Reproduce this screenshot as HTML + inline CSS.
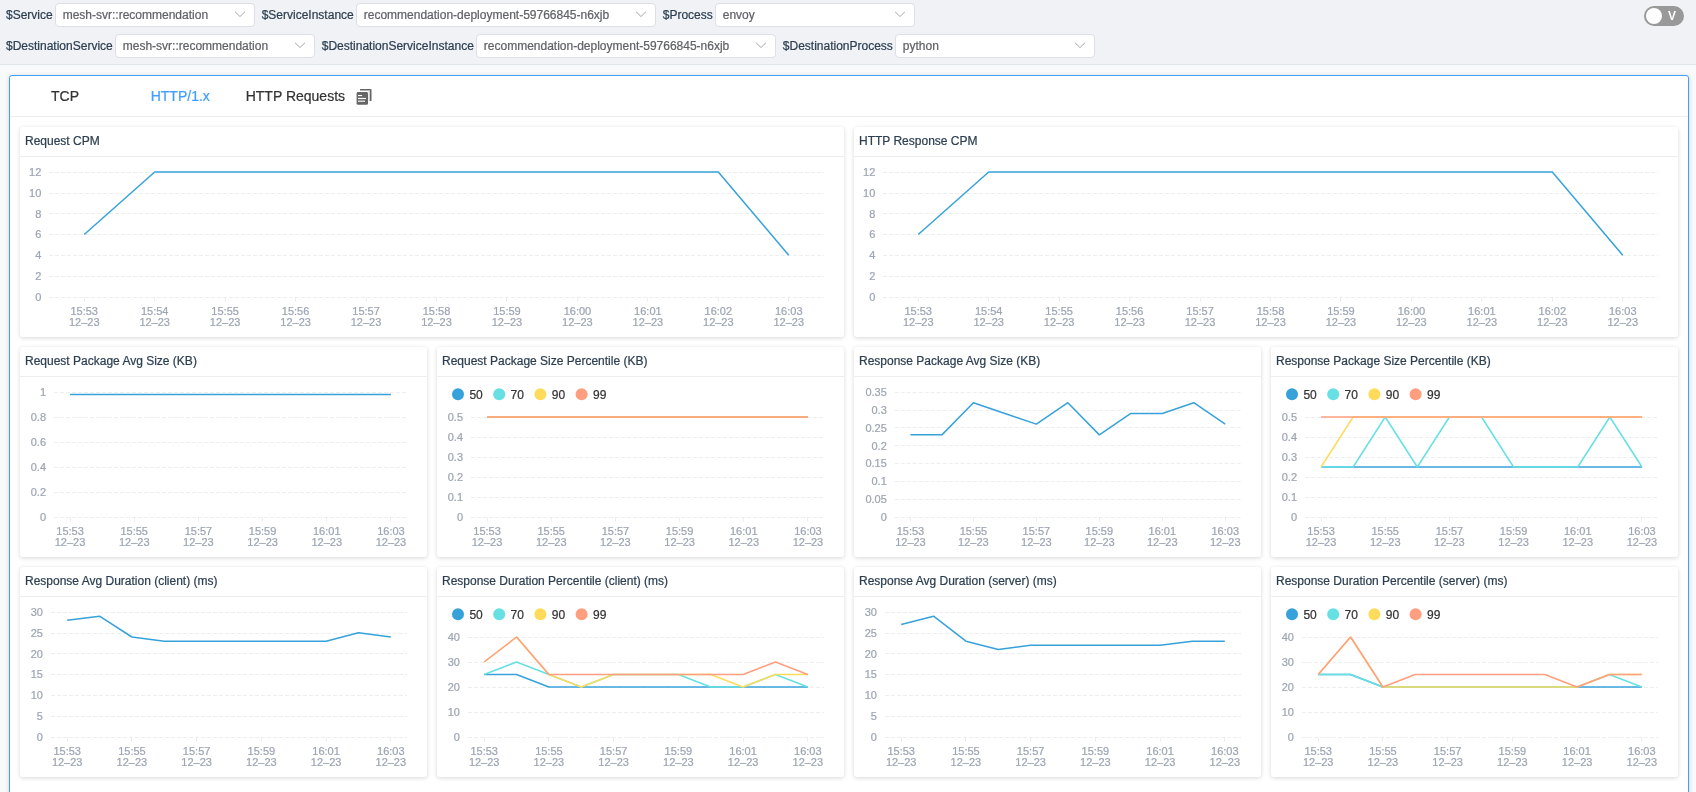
<!DOCTYPE html>
<html><head><meta charset="utf-8"><title>dashboard</title>
<style>
*{box-sizing:border-box;margin:0;padding:0}
html,body{width:1696px;height:792px;overflow:hidden}
body{background:#f7f9fa;font-family:"Liberation Sans", sans-serif;font-size:12px;color:#2c3e50;position:relative}
.top{position:absolute;left:0;top:0;width:1696px;height:65px;background:#f0f2f5;border-bottom:1px solid #dfe4e8}
.r{position:absolute;left:6px;height:24px;display:flex;align-items:center;white-space:nowrap}
.r1{top:3px}.r2{top:34px}
.lb{font-size:12px;color:#2c3e50;margin-right:2.3px;line-height:24px;position:relative;top:0px}
.sel{display:inline-block;position:relative;height:24px;border:1px solid #dcdfe6;border-radius:4px;background:#fff;margin-right:6.7px;flex:none}
.sv{position:absolute;left:6.7px;top:0;line-height:22px;font-size:12px;color:#606266}
.arr{position:absolute;right:7.3px;top:3.4px}
.top,.tabs,.card{will-change:transform}
.lb,.sv,.tab,.hd{-webkit-text-stroke:0.22px currentColor}
.yl,.xl,.lg{stroke-width:0.22px}
.yl,.xl{stroke:#9da5b2}.lg{stroke:#333}
.sw{position:absolute;left:1644px;top:6px;width:40px;height:20px;border-radius:10px;background:#999}
.sw i{position:absolute;left:2px;top:2px;width:16px;height:16px;border-radius:8px;background:#fff}
.sw b{position:absolute;left:24px;top:0;line-height:20px;font-size:12px;color:#fff;font-weight:700;font-style:normal}
.panel{position:absolute;left:9px;top:75px;width:1680px;height:740px;background:#fff;border:1px solid #409eff;border-radius:3px;box-shadow:0 1px 4px 0 rgba(0,0,0,.16)}
.tabs{position:absolute;left:10px;top:76px;width:1678px;height:41px;border-bottom:1px solid #eee}
.tab{position:absolute;top:0;line-height:40px;font-size:14px;color:#333;white-space:nowrap}
.card{position:absolute;background:#fff;border-radius:3px;box-shadow:0 1px 4px 0 rgba(0,0,0,.16)}
.hd{position:absolute;left:0;top:0;width:100%;height:30px;border-bottom:1px solid #eee;padding-left:5px;line-height:28px;font-size:12px;color:#2c3e50;white-space:nowrap}
.cv{position:absolute;left:0;top:0}
.gl{stroke:#c1c5ca;stroke-opacity:0.29;stroke-width:1;stroke-dasharray:4 2}
.tk{stroke:#c1c5ca;stroke-opacity:0.29;stroke-width:1}
.yl{font-family:"Liberation Sans", sans-serif;font-size:11px;fill:#9da5b2;text-anchor:end}
.xl{font-family:"Liberation Sans", sans-serif;font-size:11px;fill:#9da5b2;text-anchor:middle}
.lg{font-family:"Liberation Sans", sans-serif;font-size:12px;fill:#333}
.sl{stroke-width:1.5;stroke-linejoin:bevel;stroke-linecap:butt}
</style></head><body>
<div class="top">
<div class="r r1"><span class="lb">$Service</span><span class="sel" style="width:200px"><span class="sv">mesh-svr::recommendation</span><svg class="arr" width="14" height="14" viewBox="0 0 1024 1024"><path fill="#a8abb2" d="M831.872 340.864 512 652.672 192.128 340.864a30.592 30.592 0 0 0-42.752 0 29.12 29.12 0 0 0 0 41.6L489.664 714.24a32 32 0 0 0 44.672 0l340.288-331.712a29.12 29.12 0 0 0 0-41.728 30.592 30.592 0 0 0-42.752 0z"/></svg></span><span class="lb">$ServiceInstance</span><span class="sel" style="width:300px"><span class="sv">recommendation-deployment-59766845-n6xjb</span><svg class="arr" width="14" height="14" viewBox="0 0 1024 1024"><path fill="#a8abb2" d="M831.872 340.864 512 652.672 192.128 340.864a30.592 30.592 0 0 0-42.752 0 29.12 29.12 0 0 0 0 41.6L489.664 714.24a32 32 0 0 0 44.672 0l340.288-331.712a29.12 29.12 0 0 0 0-41.728 30.592 30.592 0 0 0-42.752 0z"/></svg></span><span class="lb">$Process</span><span class="sel" style="width:200px"><span class="sv">envoy</span><svg class="arr" width="14" height="14" viewBox="0 0 1024 1024"><path fill="#a8abb2" d="M831.872 340.864 512 652.672 192.128 340.864a30.592 30.592 0 0 0-42.752 0 29.12 29.12 0 0 0 0 41.6L489.664 714.24a32 32 0 0 0 44.672 0l340.288-331.712a29.12 29.12 0 0 0 0-41.728 30.592 30.592 0 0 0-42.752 0z"/></svg></span></div>
<div class="r r2"><span class="lb">$DestinationService</span><span class="sel" style="width:200px"><span class="sv">mesh-svr::recommendation</span><svg class="arr" width="14" height="14" viewBox="0 0 1024 1024"><path fill="#a8abb2" d="M831.872 340.864 512 652.672 192.128 340.864a30.592 30.592 0 0 0-42.752 0 29.12 29.12 0 0 0 0 41.6L489.664 714.24a32 32 0 0 0 44.672 0l340.288-331.712a29.12 29.12 0 0 0 0-41.728 30.592 30.592 0 0 0-42.752 0z"/></svg></span><span class="lb">$DestinationServiceInstance</span><span class="sel" style="width:300px"><span class="sv">recommendation-deployment-59766845-n6xjb</span><svg class="arr" width="14" height="14" viewBox="0 0 1024 1024"><path fill="#a8abb2" d="M831.872 340.864 512 652.672 192.128 340.864a30.592 30.592 0 0 0-42.752 0 29.12 29.12 0 0 0 0 41.6L489.664 714.24a32 32 0 0 0 44.672 0l340.288-331.712a29.12 29.12 0 0 0 0-41.728 30.592 30.592 0 0 0-42.752 0z"/></svg></span><span class="lb">$DestinationProcess</span><span class="sel" style="width:200px"><span class="sv">python</span><svg class="arr" width="14" height="14" viewBox="0 0 1024 1024"><path fill="#a8abb2" d="M831.872 340.864 512 652.672 192.128 340.864a30.592 30.592 0 0 0-42.752 0 29.12 29.12 0 0 0 0 41.6L489.664 714.24a32 32 0 0 0 44.672 0l340.288-331.712a29.12 29.12 0 0 0 0-41.728 30.592 30.592 0 0 0-42.752 0z"/></svg></span></div>
<div class="sw"><i></i><b>V</b></div>
</div>
<div class="panel"></div>
<div class="tabs">
<span class="tab" style="left:41px">TCP</span>
<span class="tab" style="left:140.7px;color:#409eff">HTTP/1.x</span>
<span class="tab" style="left:235.7px">HTTP Requests</span>
<svg style="position:absolute;left:346px;top:12px" width="17" height="18" viewBox="0 0 17 18">
<path d="M4.0 1.65 H14.75 V13.1" fill="none" stroke="#666" stroke-width="1.5" stroke-linejoin="round"/>
<path d="M13.3 2.6 V12.9" fill="none" stroke="#cfcfcf" stroke-width="1.3"/>
<rect x="0.6" y="4" width="11.4" height="12.8" rx="1.4" fill="#666"/>
<rect x="2" y="7" width="4.1" height="1.1" fill="#fff"/>
<rect x="2" y="9.9" width="8" height="1.2" fill="#fff"/>
<rect x="2" y="12.6" width="7" height="1.3" fill="#e8e8e8"/>
</svg>
</div>
<div class="card" style="left:20px;top:127px;width:824px;height:210px">
<div class="hd">Request CPM</div>
<svg class="cv" width="824" height="210" viewBox="0 0 824 210">
<line x1="29" y1="170.5" x2="804" y2="170.5" class="gl"/>
<text x="21.3" y="173.95" class="yl">0</text>
<line x1="29" y1="149.5" x2="804" y2="149.5" class="gl"/>
<text x="21.3" y="153.12" class="yl">2</text>
<line x1="29" y1="128.5" x2="804" y2="128.5" class="gl"/>
<text x="21.3" y="132.28" class="yl">4</text>
<line x1="29" y1="107.5" x2="804" y2="107.5" class="gl"/>
<text x="21.3" y="111.45" class="yl">6</text>
<line x1="29" y1="86.5" x2="804" y2="86.5" class="gl"/>
<text x="21.3" y="90.62" class="yl">8</text>
<line x1="29" y1="66.5" x2="804" y2="66.5" class="gl"/>
<text x="21.3" y="69.78" class="yl">10</text>
<line x1="29" y1="45.5" x2="804" y2="45.5" class="gl"/>
<text x="21.3" y="48.95" class="yl">12</text>
<line x1="64.5" y1="170.5" x2="64.5" y2="174.7" class="tk"/>
<text x="64.23" y="187.9" class="xl">15:53</text>
<text x="64.23" y="198.8" class="xl">12–23</text>
<line x1="134.5" y1="170.5" x2="134.5" y2="174.7" class="tk"/>
<text x="134.68" y="187.9" class="xl">15:54</text>
<text x="134.68" y="198.8" class="xl">12–23</text>
<line x1="205.5" y1="170.5" x2="205.5" y2="174.7" class="tk"/>
<text x="205.14" y="187.9" class="xl">15:55</text>
<text x="205.14" y="198.8" class="xl">12–23</text>
<line x1="275.5" y1="170.5" x2="275.5" y2="174.7" class="tk"/>
<text x="275.59" y="187.9" class="xl">15:56</text>
<text x="275.59" y="198.8" class="xl">12–23</text>
<line x1="346.5" y1="170.5" x2="346.5" y2="174.7" class="tk"/>
<text x="346.05" y="187.9" class="xl">15:57</text>
<text x="346.05" y="198.8" class="xl">12–23</text>
<line x1="416.5" y1="170.5" x2="416.5" y2="174.7" class="tk"/>
<text x="416.5" y="187.9" class="xl">15:58</text>
<text x="416.5" y="198.8" class="xl">12–23</text>
<line x1="486.5" y1="170.5" x2="486.5" y2="174.7" class="tk"/>
<text x="486.95" y="187.9" class="xl">15:59</text>
<text x="486.95" y="198.8" class="xl">12–23</text>
<line x1="557.5" y1="170.5" x2="557.5" y2="174.7" class="tk"/>
<text x="557.41" y="187.9" class="xl">16:00</text>
<text x="557.41" y="198.8" class="xl">12–23</text>
<line x1="627.5" y1="170.5" x2="627.5" y2="174.7" class="tk"/>
<text x="627.86" y="187.9" class="xl">16:01</text>
<text x="627.86" y="198.8" class="xl">12–23</text>
<line x1="698.5" y1="170.5" x2="698.5" y2="174.7" class="tk"/>
<text x="698.32" y="187.9" class="xl">16:02</text>
<text x="698.32" y="198.8" class="xl">12–23</text>
<line x1="768.5" y1="170.5" x2="768.5" y2="174.7" class="tk"/>
<text x="768.77" y="187.9" class="xl">16:03</text>
<text x="768.77" y="198.8" class="xl">12–23</text>
<polyline points="64.23,107.5 134.68,45 205.14,45 275.59,45 346.05,45 416.5,45 486.95,45 557.41,45 627.86,45 698.32,45 768.77,128.33" fill="none" stroke="#37A2DA" class="sl"/>
</svg></div>
<div class="card" style="left:854px;top:127px;width:824px;height:210px">
<div class="hd">HTTP Response CPM</div>
<svg class="cv" width="824" height="210" viewBox="0 0 824 210">
<line x1="29" y1="170.5" x2="804" y2="170.5" class="gl"/>
<text x="21.3" y="173.95" class="yl">0</text>
<line x1="29" y1="149.5" x2="804" y2="149.5" class="gl"/>
<text x="21.3" y="153.12" class="yl">2</text>
<line x1="29" y1="128.5" x2="804" y2="128.5" class="gl"/>
<text x="21.3" y="132.28" class="yl">4</text>
<line x1="29" y1="107.5" x2="804" y2="107.5" class="gl"/>
<text x="21.3" y="111.45" class="yl">6</text>
<line x1="29" y1="86.5" x2="804" y2="86.5" class="gl"/>
<text x="21.3" y="90.62" class="yl">8</text>
<line x1="29" y1="66.5" x2="804" y2="66.5" class="gl"/>
<text x="21.3" y="69.78" class="yl">10</text>
<line x1="29" y1="45.5" x2="804" y2="45.5" class="gl"/>
<text x="21.3" y="48.95" class="yl">12</text>
<line x1="64.5" y1="170.5" x2="64.5" y2="174.7" class="tk"/>
<text x="64.23" y="187.9" class="xl">15:53</text>
<text x="64.23" y="198.8" class="xl">12–23</text>
<line x1="134.5" y1="170.5" x2="134.5" y2="174.7" class="tk"/>
<text x="134.68" y="187.9" class="xl">15:54</text>
<text x="134.68" y="198.8" class="xl">12–23</text>
<line x1="205.5" y1="170.5" x2="205.5" y2="174.7" class="tk"/>
<text x="205.14" y="187.9" class="xl">15:55</text>
<text x="205.14" y="198.8" class="xl">12–23</text>
<line x1="275.5" y1="170.5" x2="275.5" y2="174.7" class="tk"/>
<text x="275.59" y="187.9" class="xl">15:56</text>
<text x="275.59" y="198.8" class="xl">12–23</text>
<line x1="346.5" y1="170.5" x2="346.5" y2="174.7" class="tk"/>
<text x="346.05" y="187.9" class="xl">15:57</text>
<text x="346.05" y="198.8" class="xl">12–23</text>
<line x1="416.5" y1="170.5" x2="416.5" y2="174.7" class="tk"/>
<text x="416.5" y="187.9" class="xl">15:58</text>
<text x="416.5" y="198.8" class="xl">12–23</text>
<line x1="486.5" y1="170.5" x2="486.5" y2="174.7" class="tk"/>
<text x="486.95" y="187.9" class="xl">15:59</text>
<text x="486.95" y="198.8" class="xl">12–23</text>
<line x1="557.5" y1="170.5" x2="557.5" y2="174.7" class="tk"/>
<text x="557.41" y="187.9" class="xl">16:00</text>
<text x="557.41" y="198.8" class="xl">12–23</text>
<line x1="627.5" y1="170.5" x2="627.5" y2="174.7" class="tk"/>
<text x="627.86" y="187.9" class="xl">16:01</text>
<text x="627.86" y="198.8" class="xl">12–23</text>
<line x1="698.5" y1="170.5" x2="698.5" y2="174.7" class="tk"/>
<text x="698.32" y="187.9" class="xl">16:02</text>
<text x="698.32" y="198.8" class="xl">12–23</text>
<line x1="768.5" y1="170.5" x2="768.5" y2="174.7" class="tk"/>
<text x="768.77" y="187.9" class="xl">16:03</text>
<text x="768.77" y="198.8" class="xl">12–23</text>
<polyline points="64.23,107.5 134.68,45 205.14,45 275.59,45 346.05,45 416.5,45 486.95,45 557.41,45 627.86,45 698.32,45 768.77,128.33" fill="none" stroke="#37A2DA" class="sl"/>
</svg></div>
<div class="card" style="left:20px;top:347px;width:407px;height:210px">
<div class="hd">Request Package Avg Size (KB)</div>
<svg class="cv" width="407" height="210" viewBox="0 0 407 210">
<line x1="34" y1="170.5" x2="387" y2="170.5" class="gl"/>
<text x="26" y="173.95" class="yl">0</text>
<line x1="34" y1="145.5" x2="387" y2="145.5" class="gl"/>
<text x="26" y="148.95" class="yl">0.2</text>
<line x1="34" y1="120.5" x2="387" y2="120.5" class="gl"/>
<text x="26" y="123.95" class="yl">0.4</text>
<line x1="34" y1="95.5" x2="387" y2="95.5" class="gl"/>
<text x="26" y="98.95" class="yl">0.6</text>
<line x1="34" y1="70.5" x2="387" y2="70.5" class="gl"/>
<text x="26" y="73.95" class="yl">0.8</text>
<line x1="34" y1="45.5" x2="387" y2="45.5" class="gl"/>
<text x="26" y="48.95" class="yl">1</text>
<line x1="50.5" y1="170.5" x2="50.5" y2="174.7" class="tk"/>
<text x="50.05" y="187.9" class="xl">15:53</text>
<text x="50.05" y="198.8" class="xl">12–23</text>
<line x1="114.5" y1="170.5" x2="114.5" y2="174.7" class="tk"/>
<text x="114.23" y="187.9" class="xl">15:55</text>
<text x="114.23" y="198.8" class="xl">12–23</text>
<line x1="178.5" y1="170.5" x2="178.5" y2="174.7" class="tk"/>
<text x="178.41" y="187.9" class="xl">15:57</text>
<text x="178.41" y="198.8" class="xl">12–23</text>
<line x1="242.5" y1="170.5" x2="242.5" y2="174.7" class="tk"/>
<text x="242.59" y="187.9" class="xl">15:59</text>
<text x="242.59" y="198.8" class="xl">12–23</text>
<line x1="306.5" y1="170.5" x2="306.5" y2="174.7" class="tk"/>
<text x="306.77" y="187.9" class="xl">16:01</text>
<text x="306.77" y="198.8" class="xl">12–23</text>
<line x1="370.5" y1="170.5" x2="370.5" y2="174.7" class="tk"/>
<text x="370.95" y="187.9" class="xl">16:03</text>
<text x="370.95" y="198.8" class="xl">12–23</text>
<polyline points="50.05,47.5 82.14,47.5 114.23,47.5 146.32,47.5 178.41,47.5 210.5,47.5 242.59,47.5 274.68,47.5 306.77,47.5 338.86,47.5 370.95,47.5" fill="none" stroke="#37A2DA" class="sl"/>
</svg></div>
<div class="card" style="left:437px;top:347px;width:407px;height:210px">
<div class="hd">Request Package Size Percentile (KB)</div>
<svg class="cv" width="407" height="210" viewBox="0 0 407 210">
<line x1="34" y1="170.5" x2="387" y2="170.5" class="gl"/>
<text x="26" y="173.95" class="yl">0</text>
<line x1="34" y1="150.5" x2="387" y2="150.5" class="gl"/>
<text x="26" y="153.95" class="yl">0.1</text>
<line x1="34" y1="130.5" x2="387" y2="130.5" class="gl"/>
<text x="26" y="133.95" class="yl">0.2</text>
<line x1="34" y1="110.5" x2="387" y2="110.5" class="gl"/>
<text x="26" y="113.95" class="yl">0.3</text>
<line x1="34" y1="90.5" x2="387" y2="90.5" class="gl"/>
<text x="26" y="93.95" class="yl">0.4</text>
<line x1="34" y1="70.5" x2="387" y2="70.5" class="gl"/>
<text x="26" y="73.95" class="yl">0.5</text>
<line x1="50.5" y1="170.5" x2="50.5" y2="174.7" class="tk"/>
<text x="50.05" y="187.9" class="xl">15:53</text>
<text x="50.05" y="198.8" class="xl">12–23</text>
<line x1="114.5" y1="170.5" x2="114.5" y2="174.7" class="tk"/>
<text x="114.23" y="187.9" class="xl">15:55</text>
<text x="114.23" y="198.8" class="xl">12–23</text>
<line x1="178.5" y1="170.5" x2="178.5" y2="174.7" class="tk"/>
<text x="178.41" y="187.9" class="xl">15:57</text>
<text x="178.41" y="198.8" class="xl">12–23</text>
<line x1="242.5" y1="170.5" x2="242.5" y2="174.7" class="tk"/>
<text x="242.59" y="187.9" class="xl">15:59</text>
<text x="242.59" y="198.8" class="xl">12–23</text>
<line x1="306.5" y1="170.5" x2="306.5" y2="174.7" class="tk"/>
<text x="306.77" y="187.9" class="xl">16:01</text>
<text x="306.77" y="198.8" class="xl">12–23</text>
<line x1="370.5" y1="170.5" x2="370.5" y2="174.7" class="tk"/>
<text x="370.95" y="187.9" class="xl">16:03</text>
<text x="370.95" y="198.8" class="xl">12–23</text>
<polyline points="50.05,70 82.14,70 114.23,70 146.32,70 178.41,70 210.5,70 242.59,70 274.68,70 306.77,70 338.86,70 370.95,70" fill="none" stroke="#37A2DA" class="sl"/>
<polyline points="50.05,70 82.14,70 114.23,70 146.32,70 178.41,70 210.5,70 242.59,70 274.68,70 306.77,70 338.86,70 370.95,70" fill="none" stroke="#67E0E3" class="sl"/>
<polyline points="50.05,70 82.14,70 114.23,70 146.32,70 178.41,70 210.5,70 242.59,70 274.68,70 306.77,70 338.86,70 370.95,70" fill="none" stroke="#FFDB5C" class="sl"/>
<polyline points="50.05,70 82.14,70 114.23,70 146.32,70 178.41,70 210.5,70 242.59,70 274.68,70 306.77,70 338.86,70 370.95,70" fill="none" stroke="#ff9f7f" class="sl"/>
<circle cx="21" cy="47.3" r="6" fill="#37A2DA"/>
<text x="32.4" y="51.8" class="lg">50</text>
<circle cx="62.2" cy="47.3" r="6" fill="#67E0E3"/>
<text x="73.6" y="51.8" class="lg">70</text>
<circle cx="103.4" cy="47.3" r="6" fill="#FFDB5C"/>
<text x="114.8" y="51.8" class="lg">90</text>
<circle cx="144.6" cy="47.3" r="6" fill="#ff9f7f"/>
<text x="156" y="51.8" class="lg">99</text>
</svg></div>
<div class="card" style="left:854px;top:347px;width:407px;height:210px">
<div class="hd">Response Package Avg Size (KB)</div>
<svg class="cv" width="407" height="210" viewBox="0 0 407 210">
<line x1="40.7" y1="170.5" x2="387" y2="170.5" class="gl"/>
<text x="32.8" y="173.95" class="yl">0</text>
<line x1="40.7" y1="152.5" x2="387" y2="152.5" class="gl"/>
<text x="32.8" y="156.09" class="yl">0.05</text>
<line x1="40.7" y1="134.5" x2="387" y2="134.5" class="gl"/>
<text x="32.8" y="138.24" class="yl">0.1</text>
<line x1="40.7" y1="116.5" x2="387" y2="116.5" class="gl"/>
<text x="32.8" y="120.38" class="yl">0.15</text>
<line x1="40.7" y1="98.5" x2="387" y2="98.5" class="gl"/>
<text x="32.8" y="102.52" class="yl">0.2</text>
<line x1="40.7" y1="80.5" x2="387" y2="80.5" class="gl"/>
<text x="32.8" y="84.66" class="yl">0.25</text>
<line x1="40.7" y1="63.5" x2="387" y2="63.5" class="gl"/>
<text x="32.8" y="66.81" class="yl">0.3</text>
<line x1="40.7" y1="45.5" x2="387" y2="45.5" class="gl"/>
<text x="32.8" y="48.95" class="yl">0.35</text>
<line x1="56.5" y1="170.5" x2="56.5" y2="174.7" class="tk"/>
<text x="56.44" y="187.9" class="xl">15:53</text>
<text x="56.44" y="198.8" class="xl">12–23</text>
<line x1="119.5" y1="170.5" x2="119.5" y2="174.7" class="tk"/>
<text x="119.4" y="187.9" class="xl">15:55</text>
<text x="119.4" y="198.8" class="xl">12–23</text>
<line x1="182.5" y1="170.5" x2="182.5" y2="174.7" class="tk"/>
<text x="182.37" y="187.9" class="xl">15:57</text>
<text x="182.37" y="198.8" class="xl">12–23</text>
<line x1="245.5" y1="170.5" x2="245.5" y2="174.7" class="tk"/>
<text x="245.33" y="187.9" class="xl">15:59</text>
<text x="245.33" y="198.8" class="xl">12–23</text>
<line x1="308.5" y1="170.5" x2="308.5" y2="174.7" class="tk"/>
<text x="308.3" y="187.9" class="xl">16:01</text>
<text x="308.3" y="198.8" class="xl">12–23</text>
<line x1="371.5" y1="170.5" x2="371.5" y2="174.7" class="tk"/>
<text x="371.26" y="187.9" class="xl">16:03</text>
<text x="371.26" y="198.8" class="xl">12–23</text>
<polyline points="56.44,87.86 87.92,87.86 119.4,55.71 150.89,66.43 182.37,77.14 213.85,55.71 245.33,87.86 276.81,66.43 308.3,66.43 339.78,55.71 371.26,77.14" fill="none" stroke="#37A2DA" class="sl"/>
</svg></div>
<div class="card" style="left:1271px;top:347px;width:407px;height:210px">
<div class="hd">Response Package Size Percentile (KB)</div>
<svg class="cv" width="407" height="210" viewBox="0 0 407 210">
<line x1="34" y1="170.5" x2="387" y2="170.5" class="gl"/>
<text x="26" y="173.95" class="yl">0</text>
<line x1="34" y1="150.5" x2="387" y2="150.5" class="gl"/>
<text x="26" y="153.95" class="yl">0.1</text>
<line x1="34" y1="130.5" x2="387" y2="130.5" class="gl"/>
<text x="26" y="133.95" class="yl">0.2</text>
<line x1="34" y1="110.5" x2="387" y2="110.5" class="gl"/>
<text x="26" y="113.95" class="yl">0.3</text>
<line x1="34" y1="90.5" x2="387" y2="90.5" class="gl"/>
<text x="26" y="93.95" class="yl">0.4</text>
<line x1="34" y1="70.5" x2="387" y2="70.5" class="gl"/>
<text x="26" y="73.95" class="yl">0.5</text>
<line x1="50.5" y1="170.5" x2="50.5" y2="174.7" class="tk"/>
<text x="50.05" y="187.9" class="xl">15:53</text>
<text x="50.05" y="198.8" class="xl">12–23</text>
<line x1="114.5" y1="170.5" x2="114.5" y2="174.7" class="tk"/>
<text x="114.23" y="187.9" class="xl">15:55</text>
<text x="114.23" y="198.8" class="xl">12–23</text>
<line x1="178.5" y1="170.5" x2="178.5" y2="174.7" class="tk"/>
<text x="178.41" y="187.9" class="xl">15:57</text>
<text x="178.41" y="198.8" class="xl">12–23</text>
<line x1="242.5" y1="170.5" x2="242.5" y2="174.7" class="tk"/>
<text x="242.59" y="187.9" class="xl">15:59</text>
<text x="242.59" y="198.8" class="xl">12–23</text>
<line x1="306.5" y1="170.5" x2="306.5" y2="174.7" class="tk"/>
<text x="306.77" y="187.9" class="xl">16:01</text>
<text x="306.77" y="198.8" class="xl">12–23</text>
<line x1="370.5" y1="170.5" x2="370.5" y2="174.7" class="tk"/>
<text x="370.95" y="187.9" class="xl">16:03</text>
<text x="370.95" y="198.8" class="xl">12–23</text>
<polyline points="50.05,120 82.14,120 114.23,120 146.32,120 178.41,120 210.5,120 242.59,120 274.68,120 306.77,120 338.86,120 370.95,120" fill="none" stroke="#37A2DA" class="sl"/>
<polyline points="50.05,120 82.14,120 114.23,70 146.32,120 178.41,70 210.5,70 242.59,120 274.68,120 306.77,120 338.86,70 370.95,120" fill="none" stroke="#67E0E3" class="sl"/>
<polyline points="50.05,120 82.14,70 114.23,70 146.32,70 178.41,70 210.5,70 242.59,70 274.68,70 306.77,70 338.86,70 370.95,70" fill="none" stroke="#FFDB5C" class="sl"/>
<polyline points="50.05,70 82.14,70 114.23,70 146.32,70 178.41,70 210.5,70 242.59,70 274.68,70 306.77,70 338.86,70 370.95,70" fill="none" stroke="#ff9f7f" class="sl"/>
<circle cx="21" cy="47.3" r="6" fill="#37A2DA"/>
<text x="32.4" y="51.8" class="lg">50</text>
<circle cx="62.2" cy="47.3" r="6" fill="#67E0E3"/>
<text x="73.6" y="51.8" class="lg">70</text>
<circle cx="103.4" cy="47.3" r="6" fill="#FFDB5C"/>
<text x="114.8" y="51.8" class="lg">90</text>
<circle cx="144.6" cy="47.3" r="6" fill="#ff9f7f"/>
<text x="156" y="51.8" class="lg">99</text>
</svg></div>
<div class="card" style="left:20px;top:567px;width:407px;height:210px">
<div class="hd">Response Avg Duration (client) (ms)</div>
<svg class="cv" width="407" height="210" viewBox="0 0 407 210">
<line x1="31" y1="170.5" x2="387" y2="170.5" class="gl"/>
<text x="22.9" y="173.95" class="yl">0</text>
<line x1="31" y1="149.5" x2="387" y2="149.5" class="gl"/>
<text x="22.9" y="153.12" class="yl">5</text>
<line x1="31" y1="128.5" x2="387" y2="128.5" class="gl"/>
<text x="22.9" y="132.28" class="yl">10</text>
<line x1="31" y1="107.5" x2="387" y2="107.5" class="gl"/>
<text x="22.9" y="111.45" class="yl">15</text>
<line x1="31" y1="86.5" x2="387" y2="86.5" class="gl"/>
<text x="22.9" y="90.62" class="yl">20</text>
<line x1="31" y1="66.5" x2="387" y2="66.5" class="gl"/>
<text x="22.9" y="69.78" class="yl">25</text>
<line x1="31" y1="45.5" x2="387" y2="45.5" class="gl"/>
<text x="22.9" y="48.95" class="yl">30</text>
<line x1="47.5" y1="170.5" x2="47.5" y2="174.7" class="tk"/>
<text x="47.18" y="187.9" class="xl">15:53</text>
<text x="47.18" y="198.8" class="xl">12–23</text>
<line x1="111.5" y1="170.5" x2="111.5" y2="174.7" class="tk"/>
<text x="111.91" y="187.9" class="xl">15:55</text>
<text x="111.91" y="198.8" class="xl">12–23</text>
<line x1="176.5" y1="170.5" x2="176.5" y2="174.7" class="tk"/>
<text x="176.64" y="187.9" class="xl">15:57</text>
<text x="176.64" y="198.8" class="xl">12–23</text>
<line x1="241.5" y1="170.5" x2="241.5" y2="174.7" class="tk"/>
<text x="241.36" y="187.9" class="xl">15:59</text>
<text x="241.36" y="198.8" class="xl">12–23</text>
<line x1="306.5" y1="170.5" x2="306.5" y2="174.7" class="tk"/>
<text x="306.09" y="187.9" class="xl">16:01</text>
<text x="306.09" y="198.8" class="xl">12–23</text>
<line x1="370.5" y1="170.5" x2="370.5" y2="174.7" class="tk"/>
<text x="370.82" y="187.9" class="xl">16:03</text>
<text x="370.82" y="198.8" class="xl">12–23</text>
<polyline points="47.18,53.33 79.55,49.17 111.91,70 144.27,74.17 176.64,74.17 209,74.17 241.36,74.17 273.73,74.17 306.09,74.17 338.45,65.83 370.82,70" fill="none" stroke="#37A2DA" class="sl"/>
</svg></div>
<div class="card" style="left:437px;top:567px;width:407px;height:210px">
<div class="hd">Response Duration Percentile (client) (ms)</div>
<svg class="cv" width="407" height="210" viewBox="0 0 407 210">
<line x1="31" y1="170.5" x2="387" y2="170.5" class="gl"/>
<text x="22.9" y="173.95" class="yl">0</text>
<line x1="31" y1="145.5" x2="387" y2="145.5" class="gl"/>
<text x="22.9" y="148.95" class="yl">10</text>
<line x1="31" y1="120.5" x2="387" y2="120.5" class="gl"/>
<text x="22.9" y="123.95" class="yl">20</text>
<line x1="31" y1="95.5" x2="387" y2="95.5" class="gl"/>
<text x="22.9" y="98.95" class="yl">30</text>
<line x1="31" y1="70.5" x2="387" y2="70.5" class="gl"/>
<text x="22.9" y="73.95" class="yl">40</text>
<line x1="47.5" y1="170.5" x2="47.5" y2="174.7" class="tk"/>
<text x="47.18" y="187.9" class="xl">15:53</text>
<text x="47.18" y="198.8" class="xl">12–23</text>
<line x1="111.5" y1="170.5" x2="111.5" y2="174.7" class="tk"/>
<text x="111.91" y="187.9" class="xl">15:55</text>
<text x="111.91" y="198.8" class="xl">12–23</text>
<line x1="176.5" y1="170.5" x2="176.5" y2="174.7" class="tk"/>
<text x="176.64" y="187.9" class="xl">15:57</text>
<text x="176.64" y="198.8" class="xl">12–23</text>
<line x1="241.5" y1="170.5" x2="241.5" y2="174.7" class="tk"/>
<text x="241.36" y="187.9" class="xl">15:59</text>
<text x="241.36" y="198.8" class="xl">12–23</text>
<line x1="306.5" y1="170.5" x2="306.5" y2="174.7" class="tk"/>
<text x="306.09" y="187.9" class="xl">16:01</text>
<text x="306.09" y="198.8" class="xl">12–23</text>
<line x1="370.5" y1="170.5" x2="370.5" y2="174.7" class="tk"/>
<text x="370.82" y="187.9" class="xl">16:03</text>
<text x="370.82" y="198.8" class="xl">12–23</text>
<polyline points="47.18,107.5 79.55,107.5 111.91,120 144.27,120 176.64,120 209,120 241.36,120 273.73,120 306.09,120 338.45,120 370.82,120" fill="none" stroke="#37A2DA" class="sl"/>
<polyline points="47.18,107.5 79.55,95 111.91,107.5 144.27,120 176.64,107.5 209,107.5 241.36,107.5 273.73,120 306.09,120 338.45,107.5 370.82,120" fill="none" stroke="#67E0E3" class="sl"/>
<polyline points="47.18,95 79.55,70 111.91,107.5 144.27,120 176.64,107.5 209,107.5 241.36,107.5 273.73,107.5 306.09,120 338.45,107.5 370.82,107.5" fill="none" stroke="#FFDB5C" class="sl"/>
<polyline points="47.18,95 79.55,70 111.91,107.5 144.27,107.5 176.64,107.5 209,107.5 241.36,107.5 273.73,107.5 306.09,107.5 338.45,95 370.82,107.5" fill="none" stroke="#ff9f7f" class="sl"/>
<circle cx="21" cy="47.3" r="6" fill="#37A2DA"/>
<text x="32.4" y="51.8" class="lg">50</text>
<circle cx="62.2" cy="47.3" r="6" fill="#67E0E3"/>
<text x="73.6" y="51.8" class="lg">70</text>
<circle cx="103.4" cy="47.3" r="6" fill="#FFDB5C"/>
<text x="114.8" y="51.8" class="lg">90</text>
<circle cx="144.6" cy="47.3" r="6" fill="#ff9f7f"/>
<text x="156" y="51.8" class="lg">99</text>
</svg></div>
<div class="card" style="left:854px;top:567px;width:407px;height:210px">
<div class="hd">Response Avg Duration (server) (ms)</div>
<svg class="cv" width="407" height="210" viewBox="0 0 407 210">
<line x1="31" y1="170.5" x2="387" y2="170.5" class="gl"/>
<text x="22.9" y="173.95" class="yl">0</text>
<line x1="31" y1="149.5" x2="387" y2="149.5" class="gl"/>
<text x="22.9" y="153.12" class="yl">5</text>
<line x1="31" y1="128.5" x2="387" y2="128.5" class="gl"/>
<text x="22.9" y="132.28" class="yl">10</text>
<line x1="31" y1="107.5" x2="387" y2="107.5" class="gl"/>
<text x="22.9" y="111.45" class="yl">15</text>
<line x1="31" y1="86.5" x2="387" y2="86.5" class="gl"/>
<text x="22.9" y="90.62" class="yl">20</text>
<line x1="31" y1="66.5" x2="387" y2="66.5" class="gl"/>
<text x="22.9" y="69.78" class="yl">25</text>
<line x1="31" y1="45.5" x2="387" y2="45.5" class="gl"/>
<text x="22.9" y="48.95" class="yl">30</text>
<line x1="47.5" y1="170.5" x2="47.5" y2="174.7" class="tk"/>
<text x="47.18" y="187.9" class="xl">15:53</text>
<text x="47.18" y="198.8" class="xl">12–23</text>
<line x1="111.5" y1="170.5" x2="111.5" y2="174.7" class="tk"/>
<text x="111.91" y="187.9" class="xl">15:55</text>
<text x="111.91" y="198.8" class="xl">12–23</text>
<line x1="176.5" y1="170.5" x2="176.5" y2="174.7" class="tk"/>
<text x="176.64" y="187.9" class="xl">15:57</text>
<text x="176.64" y="198.8" class="xl">12–23</text>
<line x1="241.5" y1="170.5" x2="241.5" y2="174.7" class="tk"/>
<text x="241.36" y="187.9" class="xl">15:59</text>
<text x="241.36" y="198.8" class="xl">12–23</text>
<line x1="306.5" y1="170.5" x2="306.5" y2="174.7" class="tk"/>
<text x="306.09" y="187.9" class="xl">16:01</text>
<text x="306.09" y="198.8" class="xl">12–23</text>
<line x1="370.5" y1="170.5" x2="370.5" y2="174.7" class="tk"/>
<text x="370.82" y="187.9" class="xl">16:03</text>
<text x="370.82" y="198.8" class="xl">12–23</text>
<polyline points="47.18,57.5 79.55,49.17 111.91,74.17 144.27,82.5 176.64,78.33 209,78.33 241.36,78.33 273.73,78.33 306.09,78.33 338.45,74.17 370.82,74.17" fill="none" stroke="#37A2DA" class="sl"/>
</svg></div>
<div class="card" style="left:1271px;top:567px;width:407px;height:210px">
<div class="hd">Response Duration Percentile (server) (ms)</div>
<svg class="cv" width="407" height="210" viewBox="0 0 407 210">
<line x1="31" y1="170.5" x2="387" y2="170.5" class="gl"/>
<text x="22.9" y="173.95" class="yl">0</text>
<line x1="31" y1="145.5" x2="387" y2="145.5" class="gl"/>
<text x="22.9" y="148.95" class="yl">10</text>
<line x1="31" y1="120.5" x2="387" y2="120.5" class="gl"/>
<text x="22.9" y="123.95" class="yl">20</text>
<line x1="31" y1="95.5" x2="387" y2="95.5" class="gl"/>
<text x="22.9" y="98.95" class="yl">30</text>
<line x1="31" y1="70.5" x2="387" y2="70.5" class="gl"/>
<text x="22.9" y="73.95" class="yl">40</text>
<line x1="47.5" y1="170.5" x2="47.5" y2="174.7" class="tk"/>
<text x="47.18" y="187.9" class="xl">15:53</text>
<text x="47.18" y="198.8" class="xl">12–23</text>
<line x1="111.5" y1="170.5" x2="111.5" y2="174.7" class="tk"/>
<text x="111.91" y="187.9" class="xl">15:55</text>
<text x="111.91" y="198.8" class="xl">12–23</text>
<line x1="176.5" y1="170.5" x2="176.5" y2="174.7" class="tk"/>
<text x="176.64" y="187.9" class="xl">15:57</text>
<text x="176.64" y="198.8" class="xl">12–23</text>
<line x1="241.5" y1="170.5" x2="241.5" y2="174.7" class="tk"/>
<text x="241.36" y="187.9" class="xl">15:59</text>
<text x="241.36" y="198.8" class="xl">12–23</text>
<line x1="306.5" y1="170.5" x2="306.5" y2="174.7" class="tk"/>
<text x="306.09" y="187.9" class="xl">16:01</text>
<text x="306.09" y="198.8" class="xl">12–23</text>
<line x1="370.5" y1="170.5" x2="370.5" y2="174.7" class="tk"/>
<text x="370.82" y="187.9" class="xl">16:03</text>
<text x="370.82" y="198.8" class="xl">12–23</text>
<polyline points="47.18,107.5 79.55,107.5 111.91,120 144.27,120 176.64,120 209,120 241.36,120 273.73,120 306.09,120 338.45,120 370.82,120" fill="none" stroke="#37A2DA" class="sl"/>
<polyline points="47.18,107.5 79.55,107.5 111.91,120 144.27,120 176.64,120 209,120 241.36,120 273.73,120 306.09,120 338.45,107.5 370.82,120" fill="none" stroke="#67E0E3" class="sl"/>
<polyline points="47.18,107.5 79.55,70 111.91,120 144.27,120 176.64,120 209,120 241.36,120 273.73,120 306.09,120 338.45,107.5 370.82,107.5" fill="none" stroke="#FFDB5C" class="sl"/>
<polyline points="47.18,107.5 79.55,70 111.91,120 144.27,107.5 176.64,107.5 209,107.5 241.36,107.5 273.73,107.5 306.09,120 338.45,107.5 370.82,107.5" fill="none" stroke="#ff9f7f" class="sl"/>
<circle cx="21" cy="47.3" r="6" fill="#37A2DA"/>
<text x="32.4" y="51.8" class="lg">50</text>
<circle cx="62.2" cy="47.3" r="6" fill="#67E0E3"/>
<text x="73.6" y="51.8" class="lg">70</text>
<circle cx="103.4" cy="47.3" r="6" fill="#FFDB5C"/>
<text x="114.8" y="51.8" class="lg">90</text>
<circle cx="144.6" cy="47.3" r="6" fill="#ff9f7f"/>
<text x="156" y="51.8" class="lg">99</text>
</svg></div>
</body></html>
